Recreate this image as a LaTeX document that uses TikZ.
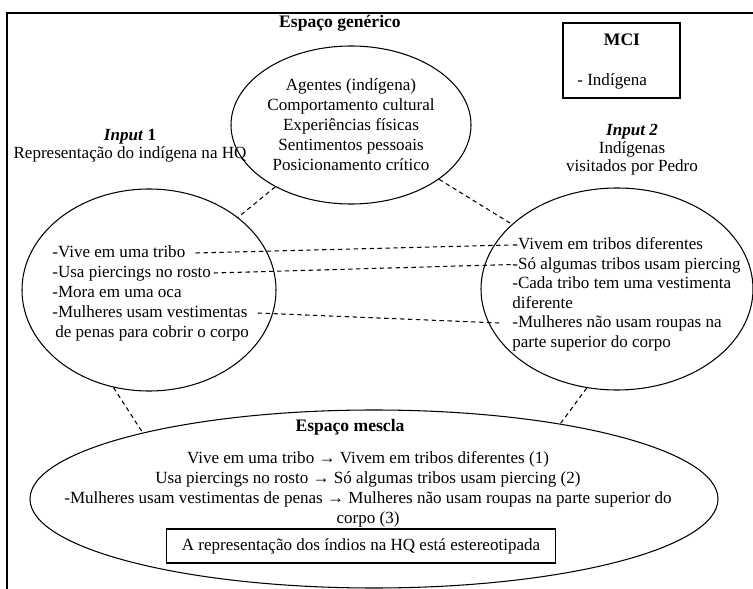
\documentclass[tikz,border=0pt]{standalone}
\usepackage{fontspec}
\setmainfont{Liberation Serif}
\usetikzlibrary{shapes.geometric}

\begin{document}
\begin{tikzpicture}[
    font=\fontsize{9.7}{11.4}\selectfont,
    space/.style={draw, ellipse, line width=0.6pt, inner sep=0pt},
    item/.style={anchor=west, inner sep=0pt, text height=1.6ex, text depth=0.4ex},
    link/.style={dash pattern=on 2.5pt off 2pt, line width=0.6pt},
    title/.style={align=center, font=\fontsize{9.7}{10.3}\selectfont},
]
    \useasboundingbox (0,0) rectangle (15.06,-11.78);
    \draw[line width=1.2pt] (0.14,-11.78) -- (0.14,-0.26) -- (15.06,-0.26);

    % generic space
    \node[font=\bfseries] (gentitle) at (6.8,-0.46) {Espaço genérico};
    \node[space, minimum width=4.8cm, minimum height=3.16cm, align=center] (gen) at (7.02,-2.5) {Agentes (indígena)\\Comportamento cultural\\Experiências físicas\\Sentimentos pessoais\\Posicionamento crítico};

    % MCI
    \node[draw, line width=0.6pt, minimum width=2.34cm, minimum height=1.5cm] (mcibox) at (12.43,-1.21) {};
    \node[font=\bfseries] (mci) at (12.44,-0.8) {MCI};
    \node[item] (mciitem) at (11.54,-1.62) {- Indígena};

    % input 1
    \node[title] (in1) at (2.6,-2.92) {\textbf{\textit{Input}} \textbf{1}\\Representação do indígena na HQ};
    \node[space, minimum width=5.08cm, minimum height=4.04cm] (i1) at (2.98,-5.8) {};
    \node[item] (i1a) at (1.04,-5.06) {-Vive em uma tribo};
    \node[item] (i1b) at (1.04,-5.46) {-Usa piercings no rosto};
    \node[item] (i1c) at (1.04,-5.86) {-Mora em uma oca};
    \node[item] (i1d) at (1.04,-6.26) {-Mulheres usam vestimentas};
    \node[item] (i1e) at (1.1,-6.66) {de penas para cobrir o corpo};

    % input 2
    \node[title] (in2) at (12.64,-3.0) {\textbf{\textit{Input 2}}\\Indígenas\\visitados por Pedro};
    \node[space, minimum width=5.44cm, minimum height=4.04cm] (i2) at (12.34,-5.78) {};
    \node[item] (i2a) at (10.24,-4.9) {-Vivem em tribos diferentes};
    \node[item] (i2b) at (10.24,-5.29) {-Só algumas tribos usam piercing};
    \node[item] (i2c) at (10.24,-5.68) {-Cada tribo tem uma vestimenta};
    \node[item] (i2d) at (10.24,-6.07) {diferente};
    \node[item] (i2e) at (10.24,-6.46) {-Mulheres não usam roupas na};
    \node[item] (i2f) at (10.24,-6.85) {parte superior do corpo};

    % blend
    \node[space, minimum width=13.76cm, minimum height=3.56cm] (mix) at (7.48,-9.98) {};
    \node[font=\bfseries] (mixtitle) at (7.0,-8.54) {Espaço mescla};
    \node[align=center] (mixtext) at (7.36,-9.78) {Vive em uma tribo → Vivem em tribos diferentes (1)\\Usa piercings no rosto → Só algumas tribos usam piercing (2)\\-Mulheres usam vestimentas de penas → Mulheres não usam roupas na parte superior do\\corpo (3)};
    \node[draw, line width=0.6pt, minimum width=7.78cm, minimum height=0.68cm] (result) at (7.22,-10.92) {A representação dos índios na HQ está estereotipada};

    % connectors
    \draw[link] (gen) -- (i1);
    \draw[link] (gen) -- (i2);
    \draw[link] (i1.-110) -- (mix.164);
    \draw[link] (i2.-107) -- (mix.22);
    \draw[link] ([xshift=2mm]i1a.east) -- ([xshift=-0.5mm]i2a.west);
    \draw[link] ([xshift=0.5mm]i1b.east) -- (i2b.west);
    \draw[link] ([xshift=2mm]i1d.east) -- ([xshift=-2.5mm]i2e.west);
\end{tikzpicture}
\end{document}
